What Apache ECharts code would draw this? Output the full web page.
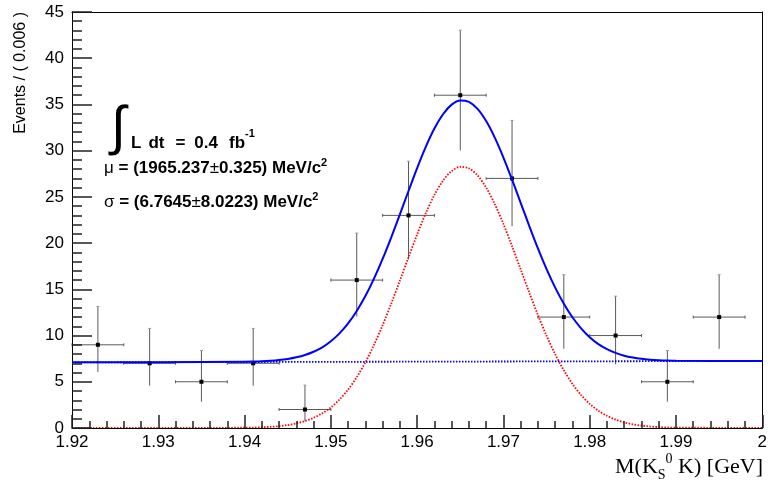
<!DOCTYPE html>
<html>
<head>
<meta charset="utf-8">
<script src="https://cdn.jsdelivr.net/npm/echarts@6/dist/echarts.min.js"></script>
<style>html,body{margin:0;padding:0;background:#fff;}#c{width:770px;height:489px;}</style>
</head>
<body>
<div id="c"></div>
<script>
// ---- data ----
const binCenters = [1.923, 1.929, 1.935, 1.941, 1.947, 1.953, 1.959, 1.965, 1.971, 1.977, 1.983, 1.989, 1.995];
const binHalfWidth = 0.003;
const counts = [9, 7, 5, 7, 2, 16, 23, 36, 27, 12, 10, 5, 12];
const errLow = [6.06, 4.58, 2.84, 4.58, 0.71, 12.05, 18.23, 30.03, 21.82, 8.56, 6.89, 2.84, 8.56];
const errHigh = [13.14, 10.77, 8.38, 10.77, 4.64, 21.08, 28.86, 43.03, 33.27, 16.58, 14.26, 8.38, 16.58];

const curveX = [1.92, 1.93,
  1.940, 1.941, 1.942, 1.943, 1.944, 1.945, 1.946, 1.947, 1.948, 1.949,
  1.950, 1.951, 1.952, 1.953, 1.954, 1.955, 1.956, 1.957, 1.958, 1.959,
  1.960, 1.961, 1.962, 1.963, 1.964, 1.965, 1.966, 1.967, 1.968, 1.969,
  1.970, 1.971, 1.972, 1.973, 1.974, 1.975, 1.976, 1.977, 1.978, 1.979,
  1.980, 1.981, 1.982, 1.983, 1.984, 1.985, 1.986, 1.987, 1.988, 1.989,
  1.990, 2.0];
const signalY = [0, 0,
  0.03, 0.05, 0.08, 0.13, 0.20, 0.32, 0.50, 0.75, 1.10, 1.58,
  2.23, 3.08, 4.16, 5.50, 7.11, 8.99, 11.12, 13.46, 15.94, 18.47,
  20.94, 23.23, 25.21, 26.76, 27.80, 28.25, 28.09, 27.33, 26.01, 24.22,
  22.07, 19.67, 17.16, 14.64, 12.22, 9.98, 7.98, 6.24, 4.77, 3.57,
  2.61, 1.87, 1.32, 0.90, 0.60, 0.40, 0.26, 0.16, 0.10, 0.06,
  0.04, 0];
const totalY = [7.10, 7.12,
  7.17, 7.19, 7.22, 7.27, 7.35, 7.47, 7.65, 7.90, 8.25, 8.73,
  9.39, 10.24, 11.32, 12.66, 14.27, 16.16, 18.29, 20.63, 23.11, 25.64,
  28.12, 30.41, 32.39, 33.94, 34.98, 35.43, 35.28, 34.52, 33.20, 31.41,
  29.26, 26.87, 24.36, 21.84, 19.42, 17.18, 15.19, 13.45, 11.98, 10.78,
  9.82, 9.08, 8.54, 8.12, 7.82, 7.62, 7.48, 7.39, 7.33, 7.29,
  7.27, 7.25];
const bkgX = [1.92, 2.0];
const bkgY = [7.10, 7.25];

const xTicks = {min: 1.92, max: 2.0, step: 0.01};
const yTicks = {min: 0, max: 45, step: 5};

// ---- chart ----
const zip = (a, b) => a.map((v, i) => [v, b[i]]);
const points = binCenters.map((x, i) => [x, counts[i], errLow[i], errHigh[i]]);

const chart = echarts.init(document.getElementById('c'), null, {renderer: 'canvas'});
const axisFont = 'Liberation Sans, Arial, Helvetica, sans-serif';
const annFont = 'Liberation Sans, Arial, Helvetica, sans-serif';
const serif = 'Liberation Serif, Times New Roman, serif';

const frameAxis = {
  axisLine: {show: true, onZero: false, lineStyle: {color: '#000', width: 1}},
  axisTick: {show: false}, axisLabel: {show: false}, splitLine: {show: false}
};
const rb = (w, pad) => ({font: 'bold 17px ' + annFont, fill: '#000', lineHeight: 24, verticalAlign: 'bottom', padding: [0, 0, 0, pad]});
const tickStyle = {color: '#222', width: 1.5};

chart.setOption({
  animation: false,
  backgroundColor: '#fff',
  grid: {left: 72, right: 2, top: 12, bottom: 61, show: false},
  xAxis: [{
    type: 'value', min: xTicks.min, max: xTicks.max, interval: xTicks.step, position: 'bottom', z: 5,
    axisLine: {show: true, onZero: false, lineStyle: {color: '#000', width: 1}},
    axisTick: {show: true, inside: true, length: 13, lineStyle: tickStyle},
    minorTick: {show: true, splitNumber: 5, length: 7, lineStyle: tickStyle},
    splitLine: {show: false}, minorSplitLine: {show: false},
    axisLabel: {show: true, color: '#000', fontSize: 17, fontFamily: axisFont, margin: 6,
      formatter: v => String(+(+v).toFixed(2))}
  }, Object.assign({type: 'value', min: xTicks.min, max: xTicks.max, position: 'top'}, frameAxis)],
  yAxis: [{
    type: 'value', min: yTicks.min, max: yTicks.max, interval: yTicks.step, position: 'left', z: 5,
    axisLine: {show: true, onZero: false, lineStyle: {color: '#000', width: 1}},
    axisTick: {show: true, inside: true, length: 20, lineStyle: tickStyle},
    minorTick: {show: true, splitNumber: 5, length: 10, lineStyle: tickStyle},
    splitLine: {show: false}, minorSplitLine: {show: false},
    axisLabel: {show: true, color: '#000', fontSize: 17, fontFamily: axisFont, margin: 8}
  }, Object.assign({type: 'value', min: yTicks.min, max: yTicks.max, position: 'right'}, frameAxis)],
  series: [
    {
      type: 'custom', name: 'data', z: 3,
      data: points,
      renderItem: function (params, api) {
        const x = api.value(0), y = api.value(1), lo = api.value(2), hi = api.value(3);
        const c = api.coord([x, y]);
        const l = api.coord([x - binHalfWidth, y]);
        const r = api.coord([x + binHalfWidth, y]);
        const pLo = api.coord([x, lo]);
        const pHi = api.coord([x, hi]);
        const st = {stroke: '#5a5a5a', lineWidth: 1};
        return {
          type: 'group',
          children: [
            {type: 'line', shape: {x1: c[0], y1: pHi[1], x2: c[0], y2: pLo[1]}, style: st},
            {type: 'line', shape: {x1: l[0], y1: c[1], x2: r[0], y2: c[1]}, style: st},
            {type: 'line', shape: {x1: l[0], y1: c[1] - 1.5, x2: l[0], y2: c[1] + 1.5}, style: st},
            {type: 'line', shape: {x1: r[0], y1: c[1] - 1.5, x2: r[0], y2: c[1] + 1.5}, style: st},
            {type: 'line', shape: {x1: c[0] - 1.5, y1: pHi[1], x2: c[0] + 1.5, y2: pHi[1]}, style: {stroke: '#999', lineWidth: 1}},
            {type: 'rect', shape: {x: c[0] - 2, y: c[1] - 2, width: 4, height: 4}, style: {fill: '#000'}}
          ]
        };
      }
    },
    {
      type: 'line', name: 'signal', z: 4, data: zip(curveX, signalY), smooth: 0.3, showSymbol: false,
      lineStyle: {color: '#ff0000', width: 1.8, type: [1.5, 1.5]}
    },
    {
      type: 'line', name: 'background', z: 4, data: zip(bkgX, bkgY), showSymbol: false,
      lineStyle: {color: '#0000ff', width: 1.8, type: [1.5, 1.5]}
    },
    {
      type: 'line', name: 'total', z: 5, data: zip(curveX, totalY), smooth: 0.3, showSymbol: false,
      lineStyle: {color: '#0000ff', width: 2}
    }
  ],
  graphic: [
    {type: 'text', left: 13, top: 12, rotation: Math.PI / 2, z: 10,
      style: {text: 'Events / ( 0.006 )', fill: '#000', font: '16px ' + axisFont}},
    {type: 'text', right: 7, top: 452, z: 10,
      style: {
        text: '{m|M(K}{sub|S}{sup|0}{m| K) [GeV]}',
        rich: {
          m: {fontFamily: serif, fontSize: 22, fill: '#000', lineHeight: 30, verticalAlign: 'middle'},
          sub: {fontFamily: serif, fontSize: 14, fill: '#000', lineHeight: 30, verticalAlign: 'bottom'},
          sup: {fontFamily: serif, fontSize: 14, fill: '#000', lineHeight: 30, verticalAlign: 'top'}
        }
      }},
    {type: 'text', left: 111, top: 102, z: 10,
      style: {text: '\u222B', fill: '#000', font: '54px Liberation Sans, sans-serif'}},
    {type: 'text', left: 131, top: 128, z: 10,
      style: {
        text: '{b|L}{p1|dt}{p2|=}{p3|0.4}{p4|fb}{s|-1}',
        rich: {
          b: rb(17, 0), p1: rb(17, 7), p2: rb(17, 11), p3: rb(17, 9), p4: rb(17, 11),
          s: {font: 'bold 11px ' + annFont, fill: '#000', lineHeight: 24, verticalAlign: 'top'}
        }
      }},
    {type: 'text', left: 104, top: 157, z: 10,
      style: {
        text: '{g|\u03BC}{b| = (1965.237}{g|\u00B1}{b|0.325) MeV/c}{s|2}',
        rich: {
          g: {font: '17px ' + annFont, fill: '#000', lineHeight: 20, verticalAlign: 'bottom'},
          b: {font: 'bold 17px ' + annFont, fill: '#000', lineHeight: 20, verticalAlign: 'bottom'},
          s: {font: 'bold 11px ' + annFont, fill: '#000', lineHeight: 20, verticalAlign: 'top'}
        }
      }},
    {type: 'text', left: 104, top: 191, z: 10,
      style: {
        text: '{g|\u03C3}{b| = (6.7645}{g|\u00B1}{b|8.0223) MeV/c}{s|2}',
        rich: {
          g: {font: '17px ' + annFont, fill: '#000', lineHeight: 20, verticalAlign: 'bottom'},
          b: {font: 'bold 17px ' + annFont, fill: '#000', lineHeight: 20, verticalAlign: 'bottom'},
          s: {font: 'bold 11px ' + annFont, fill: '#000', lineHeight: 20, verticalAlign: 'top'}
        }
      }}
  ]
});
</script>
</body>
</html>
